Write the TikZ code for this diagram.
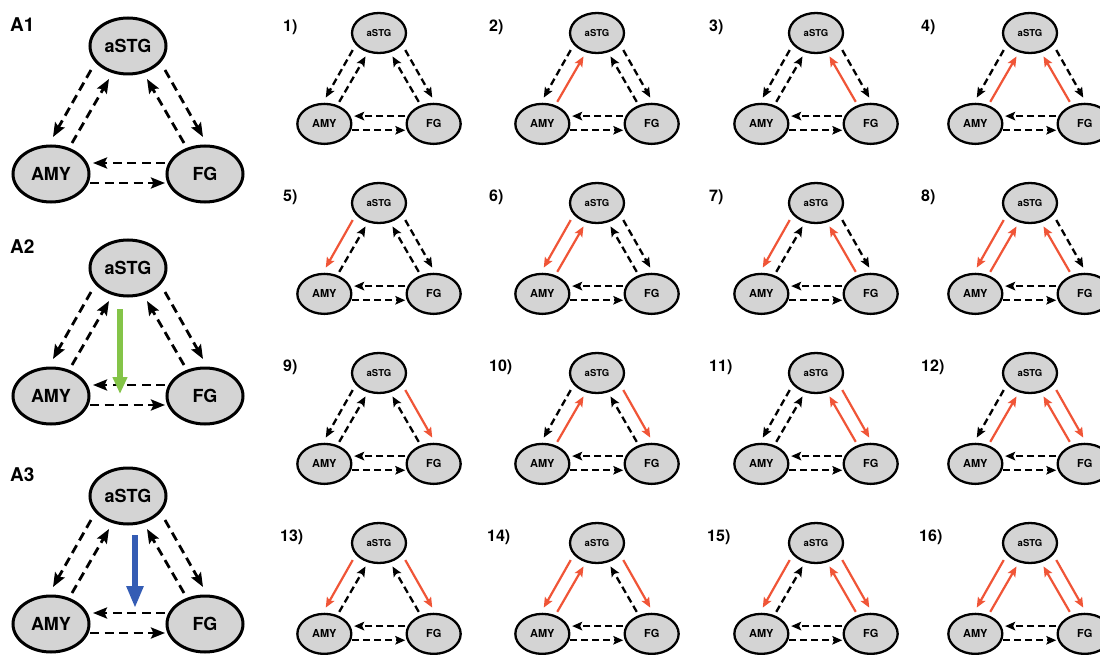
\documentclass[tikz,border=0pt]{standalone}
\usepackage{fontspec}
\setmainfont{TeX Gyre Heros}
\usetikzlibrary{calc,shapes.geometric,arrows.meta}
\definecolor{ellfill}{RGB}{212,212,212}
\definecolor{redarr}{RGB}{240,85,55}
\definecolor{grnarr}{RGB}{132,196,72}
\definecolor{bluarr}{RGB}{52,92,180}
\tikzset{
  bigtop/.style={ellipse, draw, fill=ellfill, line width=3pt, minimum width=76pt, minimum height=56pt, inner sep=0pt, font=\fontsize{18}{20}\selectfont\bfseries},
  bigbot/.style={bigtop},
  smalltop/.style={ellipse, draw, fill=ellfill, line width=2.3pt, minimum width=54pt, minimum height=40pt, inner sep=0pt, font=\fontsize{9.5}{11}\selectfont\bfseries},
  smallbot/.style={smalltop, font=\fontsize{11}{13}\selectfont\bfseries},
  bigdsh/.style={line width=2.8pt, dash pattern=on 9pt off 5.5pt, -{Stealth[length=14pt,width=11pt,inset=2.5pt]}},
  smalldsh/.style={line width=2.3pt, dash pattern=on 7pt off 4pt, -{Stealth[length=10pt,width=8.5pt,inset=2pt]}},
  smallred/.style={line width=2.2pt, color=redarr, -{Stealth[length=10pt,width=8.5pt,inset=2pt]}},
  panel/.style={anchor=west, inner sep=0pt, font=\fontsize{19}{21}\selectfont\bfseries},
  num/.style={anchor=west, inner sep=0pt, font=\fontsize{16}{18}\selectfont\bfseries},
  grnarrow/.style={line width=5.5pt, color=grnarr, -{Triangle[length=17pt,width=14pt]}},
  bluarrow/.style={line width=6pt, color=bluarr, -{Triangle[length=22pt,width=16pt]}},
}
% #1 prefix, #2 cx, #3 cy, #4 scale, #5 kind, #6 LO, #7 LI, #8 RI, #9 RO
\newcommand{\motif}[9]{%
  \node[#5top] (#1a) at (#2,#3) {aSTG};
  \node[#5bot] (#1m) at ({#2-77*#4},{#3+128*#4}) {AMY};
  \node[#5bot] (#1f) at ({#2+77*#4},{#3+128*#4}) {FG};
  \draw[#6] ($(#1a)+({-37*#4},{24*#4})$) -- ($(#1m)+({2*#4},{-37*#4})$);
  \draw[#7] ($(#1m)+({21*#4},{-31*#4})$) -- ($(#1a)+({-19*#4},{33*#4})$);
  \draw[#8] ($(#1f)+({-21*#4},{-31*#4})$) -- ($(#1a)+({19*#4},{33*#4})$);
  \draw[#9] ($(#1a)+({37*#4},{24*#4})$) -- ($(#1f)+({-2*#4},{-37*#4})$);
  \draw[#5dsh] ($(#1f)+({-40*#4},{-11*#4})$) -- ($(#1m)+({42*#4},{-11*#4})$);
  \draw[#5dsh] ($(#1m)+({39*#4},{9*#4})$) -- ($(#1f)+({-40*#4},{9*#4})$);
}
\begin{document}
\begin{tikzpicture}[x=1pt,y=-1pt]
\path[use as bounding box] (0,0) rectangle (1100,655);
% left column
\node[panel] (LA1) at (10,25) {A1};
\node[panel] (LA2) at (10,247) {A2};
\node[panel] (LA3) at (10,475) {A3};
\motif{A1}{128}{46}{1}{big}{bigdsh}{bigdsh}{bigdsh}{bigdsh}
\motif{A2}{128}{268}{1}{big}{bigdsh}{bigdsh}{bigdsh}{bigdsh}
\motif{A3}{128}{496}{1}{big}{bigdsh}{bigdsh}{bigdsh}{bigdsh}
\coordinate (A2tip) at ($(A2a)+(-8,126)$);
\draw[grnarrow] ($(A2a)+(-8,41)$) -- (A2tip);
\coordinate (A3tip) at ($(A3a)+(7,112)$);
\draw[bluarrow] ($(A3a)+(7,39)$) -- (A3tip);
% row 1
\node[num] (n1) at (283,27) {1)};
\node[num] (n2) at (489,27) {2)};
\node[num] (n3) at (709,27) {3)};
\node[num] (n4) at (921,27) {4)};
\motif{p1}{379}{33}{0.71}{small}{smalldsh}{smalldsh}{smalldsh}{smalldsh}
\motif{p2}{597}{33}{0.71}{small}{smalldsh}{smallred}{smalldsh}{smalldsh}
\motif{p3}{816}{33}{0.71}{small}{smalldsh}{smalldsh}{smallred}{smalldsh}
\motif{p4}{1030}{33}{0.71}{small}{smalldsh}{smallred}{smallred}{smalldsh}
% row 2
\node[num] (n5) at (283,197) {5)};
\node[num] (n6) at (489,197) {6)};
\node[num] (n7) at (709,197) {7)};
\node[num] (n8) at (921,197) {8)};
\motif{p5}{379}{203}{0.71}{small}{smallred}{smalldsh}{smalldsh}{smalldsh}
\motif{p6}{597}{203}{0.71}{small}{smallred}{smallred}{smalldsh}{smalldsh}
\motif{p7}{816}{203}{0.71}{small}{smallred}{smalldsh}{smallred}{smalldsh}
\motif{p8}{1030}{203}{0.71}{small}{smallred}{smallred}{smallred}{smalldsh}
% row 3
\node[num] (n9) at (283,367) {9)};
\node[num] (n10) at (489,367) {10)};
\node[num] (n11) at (709,367) {11)};
\node[num] (n12) at (921,367) {12)};
\motif{p9}{379}{373}{0.71}{small}{smalldsh}{smalldsh}{smalldsh}{smallred}
\motif{p10}{597}{373}{0.71}{small}{smalldsh}{smallred}{smalldsh}{smallred}
\motif{p11}{816}{373}{0.71}{small}{smalldsh}{smalldsh}{smallred}{smallred}
\motif{p12}{1030}{373}{0.71}{small}{smalldsh}{smallred}{smallred}{smallred}
% row 4
\node[num] (n13) at (280,537) {13)};
\node[num] (n14) at (487,537) {14)};
\node[num] (n15) at (707,537) {15)};
\node[num] (n16) at (919,537) {16)};
\motif{p13}{379}{543}{0.71}{small}{smallred}{smalldsh}{smalldsh}{smallred}
\motif{p14}{597}{543}{0.71}{small}{smallred}{smallred}{smalldsh}{smallred}
\motif{p15}{816}{543}{0.71}{small}{smallred}{smalldsh}{smallred}{smallred}
\motif{p16}{1030}{543}{0.71}{small}{smallred}{smallred}{smallred}{smallred}
\end{tikzpicture}
\end{document}
